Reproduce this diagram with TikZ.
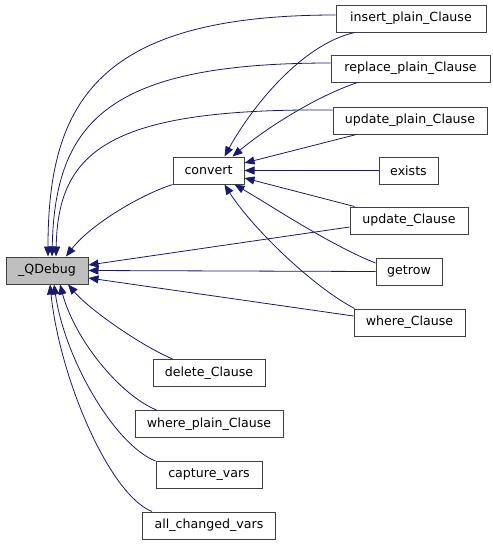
\documentclass[tikz,border=0pt]{standalone}
\usepackage{fontspec}
\setmainfont{DejaVu Sans}
\usetikzlibrary{arrows.meta,calc}
\definecolor{edgec}{HTML}{191970}
\definecolor{boxc}{HTML}{404040}
\definecolor{hilite}{HTML}{BFBFBF}
\begin{document}
\begin{tikzpicture}[x=1pt,y=-1pt,
  fn/.style={draw=boxc,line width=1pt,fill=white,inner sep=0pt,minimum height=27pt,font=\fontsize{12.6}{15}\selectfont},
  edge/.style={draw=edgec,line width=0.8pt,-{Triangle[length=10pt,width=8pt]}}]
\useasboundingbox (0,0) rectangle (493,544);
\node[fn,fill=hilite,minimum width=82pt] (qd) at (47,270.5) {\_QDebug};
\node[fn,minimum width=71pt] (cv) at (208.5,170.5) {convert};
\node[fn,minimum width=150pt] (ins) at (411,18.5) {insert\_plain\_Clause};
\node[fn,minimum width=159pt] (rep) at (410.5,68.5) {replace\_plain\_Clause};
\node[fn,minimum width=154pt] (upl) at (410,120.5) {update\_plain\_Clause};
\node[fn,minimum width=59pt] (ex) at (408.5,170.5) {exists};
\node[fn,minimum width=118pt] (uc) at (409,220.5) {update\_Clause};
\node[fn,minimum width=66pt] (gr) at (409,271.5) {getrow};
\node[fn,minimum width=111pt] (wc) at (409.5,322.5) {where\_Clause};
\node[fn,minimum width=112pt] (del) at (209,373) {delete\_Clause};
\node[fn,minimum width=148pt] (wpl) at (209,424) {where\_plain\_Clause};
\node[fn,minimum width=106pt] (cap) at (209,475) {capture\_vars};
\node[fn,minimum width=133pt] (all) at (209,525.5) {all\_changed\_vars};
% to _QDebug
\draw[edge] ($(ins.west)+(0,-3.5)$) .. controls (100,15) and (48,100) .. ($(qd.north)+(1,0)$);
\draw[edge] ($(rep.west)+(0,-5.5)$) .. controls (110,63) and (55,120) .. ($(qd.north)+(5,0)$);
\draw[edge] ($(upl.west)+(0,-10.5)$) .. controls (110,108) and (58,150) .. ($(qd.north)+(9,0)$);
\draw[edge] (cv.south west) .. controls (140,195) and (90,225) .. ($(qd.north)+(19,0)$);
\draw[edge] ($(uc.west)+(0,6.5)$) -- ($(qd.east)+(0,-5.5)$);
\draw[edge] (gr.west) -- (qd.east);
\draw[edge] ($(wc.west)+(0,-6.5)$) -- ($(qd.east)+(0,7.5)$);
\draw[edge] ($(del.north west)+(20,0)$) .. controls (140,345) and (90,310) .. ($(qd.south)+(21,0)$);
\draw[edge] ($(wpl.north west)+(22,0)$) .. controls (120,395) and (75,340) .. ($(qd.south)+(13,0)$);
\draw[edge] (cap.north west) .. controls (115,445) and (65,360) .. ($(qd.south)+(7,0)$);
\draw[edge] ($(all.north west)+(10,0)$) .. controls (110,495) and (60,380) .. ($(qd.south)+(3,0)$);
% to convert
\draw[edge] ($(ins.south west)+(19,0)$) .. controls (300,45) and (250,110) .. ($(cv.north)+(16,0)$);
\draw[edge] ($(rep.south west)+(27,0)$) .. controls (320,95) and (270,125) .. ($(cv.north)+(24,0)$);
\draw[edge] ($(upl.south west)+(24,0)$) -- ($(cv.east)+(0,-7.5)$);
\draw[edge] (ex.west) -- (cv.east);
\draw[edge] ($(uc.north west)+(5,0)$) -- ($(cv.east)+(0,7.5)$);
\draw[edge] ($(gr.west)+(0,-8.5)$) .. controls (330,245) and (270,205) .. ($(cv.south)+(26,0)$);
\draw[edge] ($(wc.north west)+(1,0)$) .. controls (310,285) and (250,225) .. ($(cv.south)+(16,0)$);
\end{tikzpicture}
\end{document}
